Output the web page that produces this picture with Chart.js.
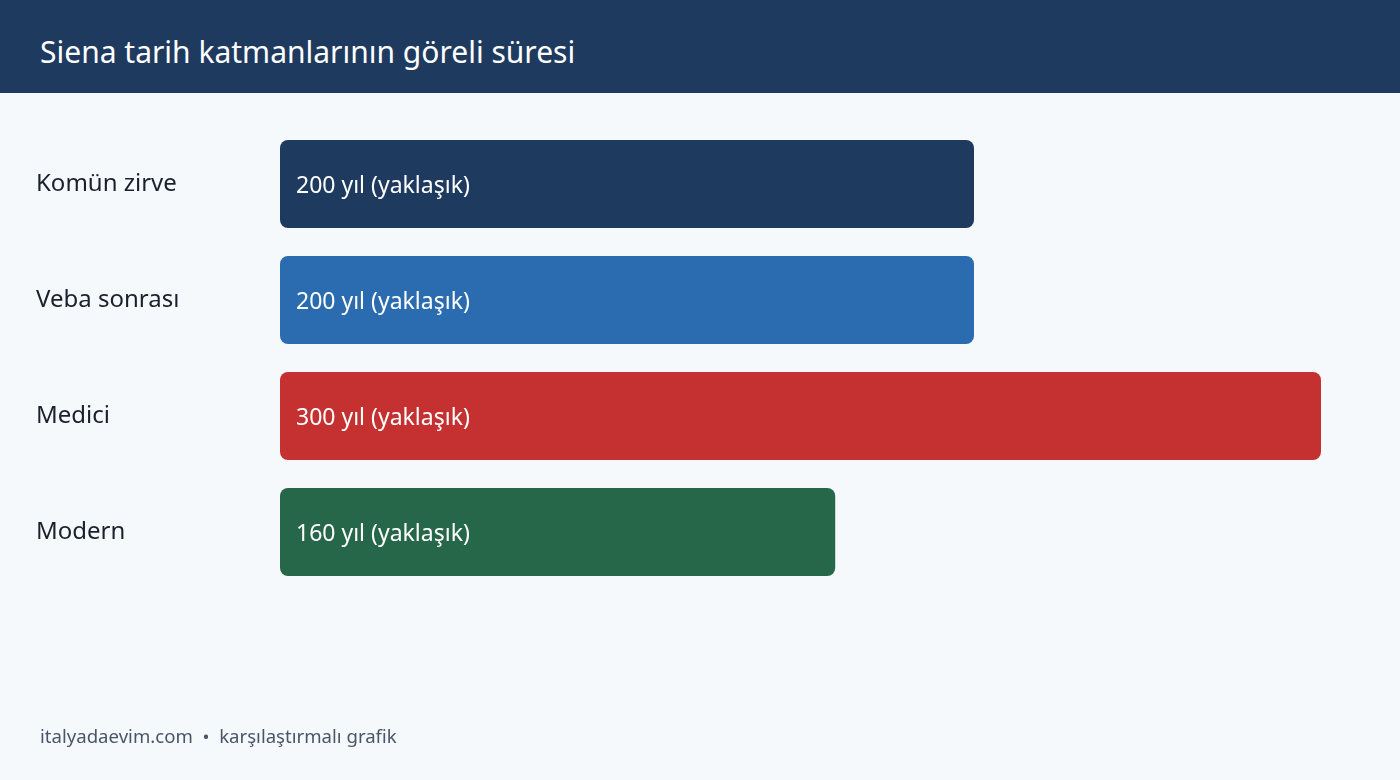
<!DOCTYPE html>
<html lang="tr">
<head>
<meta charset="utf-8">
<script src="https://cdn.jsdelivr.net/npm/chart.js@4.4.1/dist/chart.umd.min.js"></script>
<style>
  html, body { margin: 0; padding: 0; }
  body { width: 1400px; height: 780px; background: #f5f9fc; position: relative; overflow: hidden; font-family: "Noto Sans", "Open Sans", sans-serif; }
  .header { position: absolute; left: 0; top: 0; width: 1400px; height: 93px; background: #1f3a5f; }
  .header h1 { margin: 0; position: absolute; left: 40px; top: 32px; font-size: 30px; line-height: 40px; font-weight: 400; color: #ffffff; }
  .wrap { position: absolute; left: 0; top: 0; width: 1400px; height: 780px; }
  .footer { position: absolute; left: 40px; top: 723px; font-size: 18.6px; color: #4a5568; }
</style>
</head>
<body>
<div class="wrap"><canvas id="durationChart"></canvas></div>
<div class="header"><h1>Siena tarih katmanlarının göreli süresi</h1></div>
<div class="footer">italyadaevim.com &nbsp;•&nbsp; karşılaştırmalı grafik</div>
<script>
// periods and approximate duration in years
var periods = ['Komün zirve', 'Veba sonrası', 'Medici', 'Modern'];
var years = [200, 200, 300, 160];
var valueLabels = ['200 yıl (yaklaşık)', '200 yıl (yaklaşık)', '300 yıl (yaklaşık)', '160 yıl (yaklaşık)'];
var barColors = ['#1f3a5f', '#2b6cb0', '#c53030', '#276749'];

// writes the label inside each bar, near its start
var insideLabels = {
    id: 'insideLabels',
    afterDatasetsDraw: function(chart) {
        var ctx = chart.ctx;
        var meta = chart.getDatasetMeta(0);
        ctx.save();
        ctx.fillStyle = '#ffffff';
        ctx.font = '23px "Noto Sans", "Open Sans", sans-serif';
        ctx.textAlign = 'left';
        ctx.textBaseline = 'middle';
        meta.data.forEach(function(bar, i) {
            ctx.fillText(valueLabels[i], bar.base + 16, bar.y + 2);
        });
        ctx.restore();
    }
};

document.addEventListener("DOMContentLoaded", function() {
    var ctx = document.getElementById('durationChart').getContext('2d');
    new Chart(ctx, {
        type: 'bar',
        data: {
            labels: periods,
            datasets: [{
                data: years,
                backgroundColor: barColors,
                borderRadius: 8,
                borderSkipped: false,
                categoryPercentage: 1,
                barPercentage: 0.76
            }]
        },
        options: {
            indexAxis: 'y',
            responsive: true,
            maintainAspectRatio: false,
            animation: false,
            layout: {
                padding: { top: 126, bottom: 190, left: 36, right: 79 }
            },
            scales: {
                x: {
                    display: false,
                    min: 0,
                    max: 300
                },
                y: {
                    grid: { display: false },
                    border: { display: false },
                    afterFit: function(axis) { axis.width = 244; },
                    ticks: {
                        crossAlign: 'far',
                        color: '#1a202c',
                        font: { size: 24, family: '"Noto Sans", "Open Sans", sans-serif' }
                    }
                }
            },
            plugins: {
                legend: { display: false },
                tooltip: { enabled: false }
            }
        },
        plugins: [insideLabels]
    });
});
</script>
</body>
</html>
